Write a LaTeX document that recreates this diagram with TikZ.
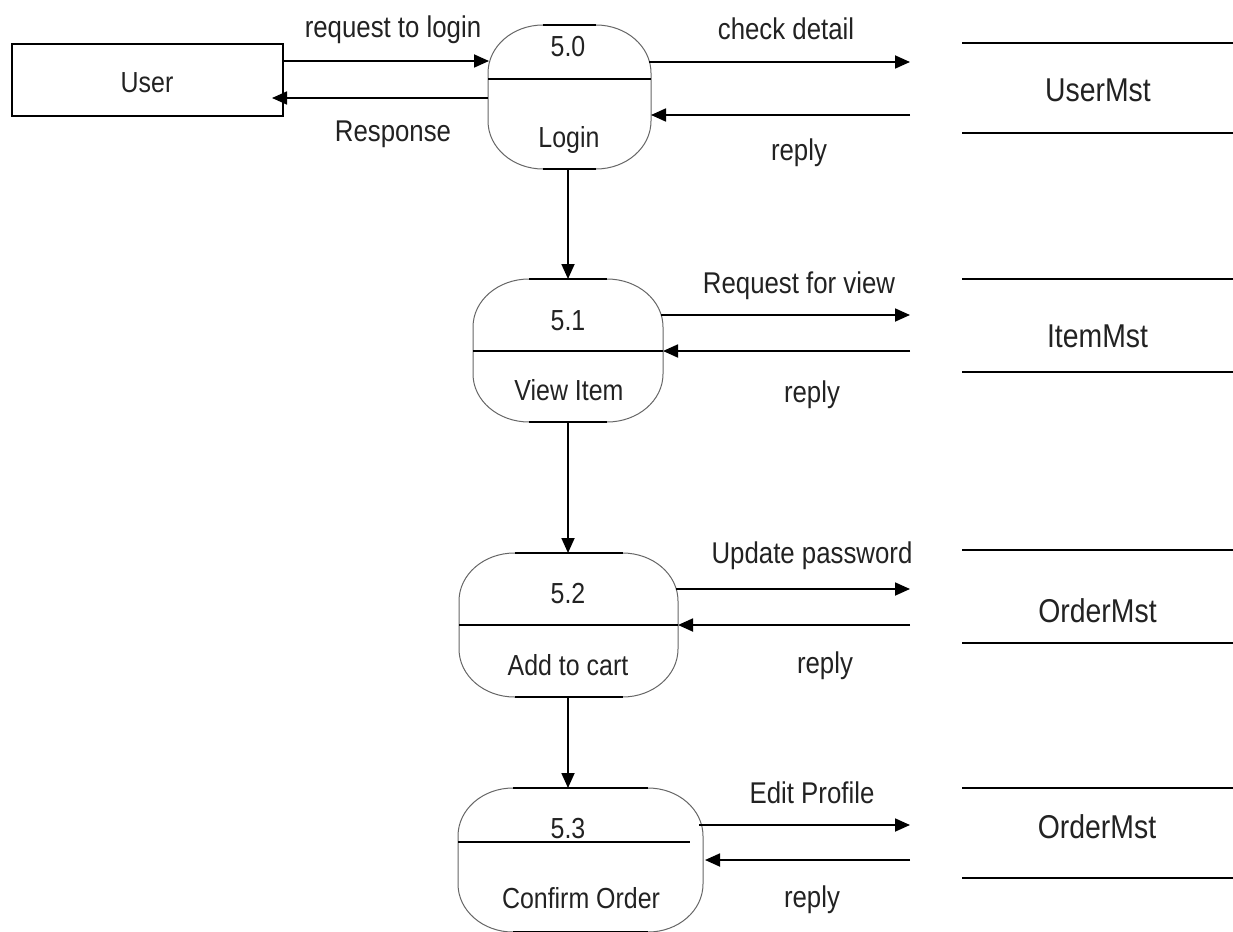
\documentclass[tikz,border=0pt]{standalone}
\usepackage{fontspec}
\setmainfont[FakeStretch=0.86]{Liberation Sans}
\usetikzlibrary{arrows.meta,calc}
\definecolor{txt}{HTML}{222222}
\definecolor{outl}{HTML}{666666}
\tikzset{
  flow/.style={line width=1.8pt,-{Triangle[length=15pt,width=13pt]}},
  procline/.style={line width=1pt,draw=outl},
  capline/.style={line width=1.8pt},
  divline/.style={line width=1.8pt},
  storeline/.style={line width=1.8pt},
  lbl/.style={anchor=base,inner sep=0pt,text=txt,font=\fontsize{30}{33}\selectfont},
  ptxt/.style={anchor=base,inner sep=0pt,text=txt,font=\fontsize{29}{32}\selectfont},
  stxt/.style={anchor=base,inner sep=0pt,text=txt,font=\fontsize{33}{36}\selectfont},
  entity/.style={draw,line width=1.8pt,minimum width=271pt,minimum height=72pt,inner sep=0pt},
}
% #1 cx, #2 W, #3 s, #4 top, #5 bottom, #6 r
\newcommand\dfdproc[6]{%
  \pgfmathsetmacro\pa{#2-#3}%
  \draw[procline] ({#1-#3},-#4) -- ({#1+#3},-#4)
    arc[start angle=90,end angle=0,x radius=\pa pt,y radius=#6pt]
    -- ({#1+#2},{-(#5-#6)})
    arc[start angle=0,end angle=-90,x radius=\pa pt,y radius=#6pt]
    -- ({#1-#3},-#5)
    arc[start angle=270,end angle=180,x radius=\pa pt,y radius=#6pt]
    -- ({#1-#2},{-(#4+#6)})
    arc[start angle=180,end angle=90,x radius=\pa pt,y radius=#6pt]
    -- cycle;
  \draw[capline] ({#1-#3},-#4) -- ({#1+#3},-#4);
  \draw[capline] ({#1-#3},-#5) -- ({#1+#3},-#5);}
\begin{document}
\begin{tikzpicture}[x=1pt,y=1pt]
\useasboundingbox (0,0) rectangle (1233,-931);
\clip (0,0) rectangle (1233,-931);

% external entity
\node[entity] (user) at (147.5,-80) {};
\node[ptxt] (usertxt) at (147,-93) {User};

% processes
\dfdproc{569.5}{81.5}{26.5}{25}{169}{48}
\dfdproc{568}{95}{39}{279}{422}{48}
\dfdproc{568.5}{109.5}{54}{553}{697}{48}
\dfdproc{580.5}{122.5}{67.5}{788}{932}{48}

\node[ptxt] (p0n) at (568,-57) {5.0};
\node[ptxt] (p0t) at (569,-147) {Login};
\node[ptxt] (p1n) at (568,-330) {5.1};
\node[ptxt] (p1t) at (569,-400) {View Item};
\node[ptxt] (p2n) at (568,-603) {5.2};
\node[ptxt] (p2t) at (568,-675) {Add to cart};
\node[ptxt] (p3n) at (568,-838) {5.3};
\node[ptxt] (p3t) at (581,-908) {Confirm Order};

% dividers
\draw[divline] (488,-79) -- (651,-79);
\draw[divline] (473,-351) -- (663,-351);
\draw[divline] (459,-625) -- (678,-625);
\draw[divline] (458,-842) -- (690,-842);

% data stores
\draw[storeline] (962,-43) -- (1233,-43);
\draw[storeline] (962,-133) -- (1233,-133);
\node[stxt] (s0) at (1098,-102) {UserMst};
\draw[storeline] (962,-279) -- (1233,-279);
\draw[storeline] (962,-372) -- (1233,-372);
\node[stxt] (s1) at (1097.5,-347) {ItemMst};
\draw[storeline] (962,-550) -- (1233,-550);
\draw[storeline] (962,-643) -- (1233,-643);
\node[stxt] (s2) at (1097.5,-622) {OrderMst};
\draw[storeline] (962,-788) -- (1233,-788);
\draw[storeline] (962,-878) -- (1233,-878);
\node[stxt] (s3) at (1097,-838) {OrderMst};

% connector end points
\coordinate (uOut) at (283,-61);
\coordinate (uIn) at (272,-98);
\coordinate (p0L1) at (489,-61);
\coordinate (p0L2) at (488,-98);
\coordinate (p0R1) at (649,-62);
\coordinate (p0R2) at (651,-115);
\coordinate (p0B) at (568,-169);
\coordinate (s0a) at (910,-62);
\coordinate (s0b) at (910,-115);
\coordinate (p1T) at (568,-279);
\coordinate (p1R1) at (661,-315);
\coordinate (p1R2) at (663,-351);
\coordinate (p1B) at (568,-422);
\coordinate (s1a) at (910,-315);
\coordinate (s1b) at (910,-351);
\coordinate (p2T) at (568,-553);
\coordinate (p2R1) at (676,-589);
\coordinate (p2R2) at (678,-625);
\coordinate (p2B) at (568,-697);
\coordinate (s2a) at (910,-589);
\coordinate (s2b) at (910,-625);
\coordinate (p3T) at (568,-788);
\coordinate (p3R1) at (699,-825);
\coordinate (p3R2) at (705,-860);
\coordinate (s3a) at (910,-825);
\coordinate (s3b) at (910,-860);

% flows
\draw[flow] (uOut) -- (p0L1);
\draw[flow] (p0L2) -- (uIn);
\draw[flow] (p0R1) -- (s0a);
\draw[flow] (s0b) -- (p0R2);
\draw[flow] (p0B) -- (p1T);
\draw[flow] (p1R1) -- (s1a);
\draw[flow] (s1b) -- (p1R2);
\draw[flow] (p1B) -- (p2T);
\draw[flow] (p2R1) -- (s2a);
\draw[flow] (s2b) -- (p2R2);
\draw[flow] (p2B) -- (p3T);
\draw[flow] (p3R1) -- (s3a);
\draw[flow] (s3b) -- (p3R2);

% labels
\node[lbl] (l1) at (393,-38) {request to login};
\node[lbl] (l2) at (393,-142) {Response};
\node[lbl] (l3) at (786,-40) {check detail};
\node[lbl] (l4) at (799,-160) {reply};
\node[lbl] (l5) at (799,-293) {Request for view};
\node[lbl] (l6) at (812,-402) {reply};
\node[lbl] (l7) at (812,-563) {Update password};
\node[lbl] (l8) at (825,-673) {reply};
\node[lbl] (l9) at (812,-803) {Edit Profile};
\node[lbl] (l10) at (812,-907) {reply};
\end{tikzpicture}
\end{document}
